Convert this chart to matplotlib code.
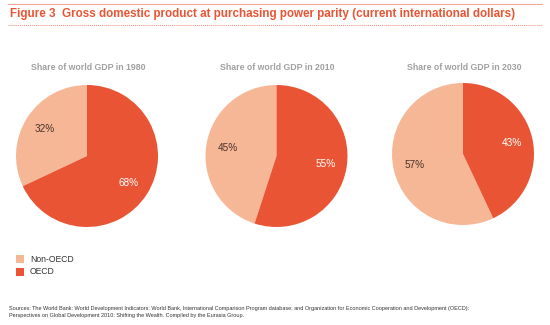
import matplotlib.pyplot as plt
from matplotlib.lines import Line2D
from matplotlib.patches import Rectangle

plt.rcParams['font.family'] = ['Liberation Sans', 'DejaVu Sans']

# data
years = ['1980', '2010', '2030']
non_oecd = [32, 45, 57]
oecd = [68, 55, 43]
groups = ['Non-OECD', 'OECD']
colors = ['#F6B797', '#E95534']

W, H = 550, 325
fig = plt.figure(figsize=(W / 100, H / 100), dpi=100)

# pie centres and radius in pixels (from top-left)
centres = [(87, 156), (276.5, 156), (463, 154)]
r = 71

for i, yr in enumerate(years):
    cx, cy = centres[i]
    ax = fig.add_axes([(cx - r) / W, 1 - (cy + r) / H, 2 * r / W, 2 * r / H])
    wedges, texts, autos = ax.pie([non_oecd[i], oecd[i]], colors=colors,
                                  startangle=90, counterclock=True,
                                  autopct='%d%%', pctdistance=0.7,
                                  wedgeprops=dict(linewidth=0),
                                  textprops=dict(fontsize=7.2))
    autos[0].set_color('#4a3228')
    autos[1].set_color('white')
    ax.set_xlim(-1, 1)
    ax.set_ylim(-1, 1)
    ax.set_aspect('equal')
    fig.text((cx + 1) / W, 1 - 67 / H, 'Share of world GDP in ' + yr,
             ha='center', va='center', fontsize=6.3, fontweight='bold',
             color='#a0a0a0')

# header
fig.add_artist(Line2D([8 / W, 542 / W], [1 - 4 / H, 1 - 4 / H], color='#f0a08a', lw=0.7))
fig.add_artist(Line2D([8 / W, 542 / W], [1 - 24.5 / H, 1 - 24.5 / H], color='#ec8a70',
                      lw=0.7, ls=(0, (1, 1))))
fig.text(10 / W, 1 - 14.5 / H,
         'Figure 3  Gross domestic product at purchasing power parity (current international dollars)',
         ha='left', va='center', fontsize=8.4, fontweight='bold', color='#E95534')

# legend
for j, g in enumerate(groups):
    y = 259 + 12.5 * j
    fig.add_artist(Rectangle((16 / W, 1 - (y + 4) / H), 8 / W, 8 / H,
                             facecolor=colors[j], edgecolor='none',
                             transform=fig.transFigure))
    fig.text(30 / W, 1 - y / H, g, ha='left', va='center', fontsize=6.2, color='#333333')

fig.text(9 / W, 1 - 308.5 / H,
         'Sources: The World Bank: World Development Indicators: World Bank, International Comparison Program database; '
         'and Organization for Economic Cooperation and Development (OECD):',
         ha='left', va='center', fontsize=4.0, color='#333333')
fig.text(9 / W, 1 - 316 / H,
         'Perspectives on Global Development 2010: Shifting the Wealth. Compiled by the Eurasia Group.',
         ha='left', va='center', fontsize=4.0, color='#333333')

fig.savefig('out.png', dpi=100, facecolor='white')
